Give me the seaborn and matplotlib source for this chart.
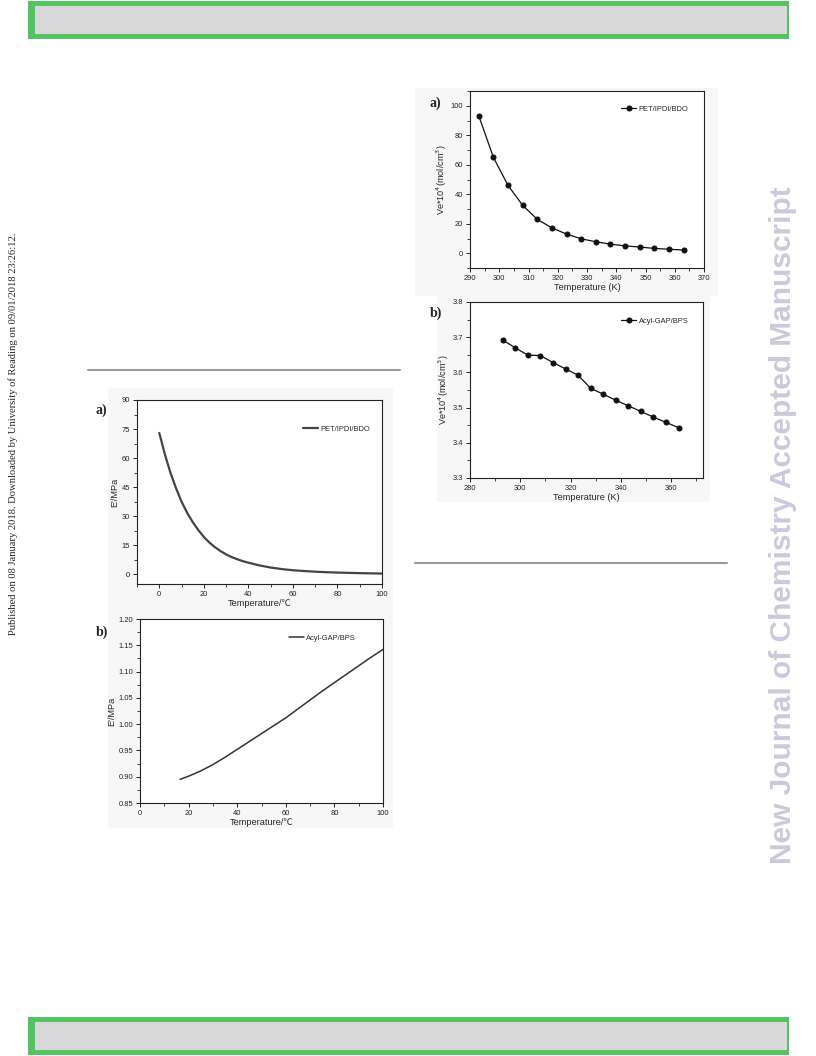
import matplotlib
matplotlib.use("Agg")
import matplotlib.pyplot as plt
import seaborn as sns
import pandas as pd
from matplotlib.patches import Rectangle
from matplotlib.lines import Line2D
from matplotlib.ticker import MultipleLocator

# ---------------- data ----------------
ve_a_temp = [293, 298, 303, 308, 313, 318, 323, 328, 333, 338, 343, 348, 353, 358, 363]
ve_a_vals = [93.2, 65.0, 46.0, 32.5, 23.0, 17.2, 13.0, 9.8, 7.8, 6.2, 5.0, 4.2, 3.3, 2.7, 2.2]
ve_a_name = "PET/IPDI/BDO"

ve_b_temp = [293, 298, 303, 308, 313, 318, 323, 328, 333, 338, 343, 348, 353, 358, 363]
ve_b_vals = [3.692, 3.670, 3.649, 3.648, 3.628, 3.610, 3.592, 3.555, 3.538, 3.521,
             3.505, 3.489, 3.473, 3.458, 3.443]
ve_b_name = "Acyl-GAP/BPS"

e_a_temp = [0, 2.5, 5, 7.5, 10, 12.5, 15, 17.5, 20, 22.5, 25, 27.5, 30, 32.5, 35, 37.5, 40,
            45, 50, 55, 60, 65, 70, 75, 80, 85, 90, 95, 100]
e_a_vals = [73.0, 62.0, 52.5, 44.5, 37.5, 31.8, 27.0, 22.9, 19.3, 16.4, 14.0, 12.0, 10.3,
            8.9, 7.8, 6.8, 6.0, 4.6, 3.5, 2.7, 2.1, 1.7, 1.35, 1.1, 0.9, 0.75, 0.6, 0.5, 0.4]
e_a_name = "PET/IPDI/BDO"

e_b_temp = [16.5, 20, 25, 30, 35, 40, 45, 50, 55, 60, 65, 70, 75, 80, 85, 90, 95, 100]
e_b_vals = [0.895, 0.901, 0.911, 0.923, 0.937, 0.952, 0.967, 0.982, 0.997, 1.012, 1.029,
            1.046, 1.063, 1.079, 1.095, 1.111, 1.127, 1.142]
e_b_name = "Acyl-GAP/BPS"

# ---------------- figure ----------------
sns.set_style("ticks")
plt.rcParams['font.family'] = ['Liberation Sans', 'DejaVu Sans']
W, H = 816, 1056
fig = plt.figure(figsize=(W / 100, H / 100), dpi=100)
fig.patch.set_facecolor("white")


def px_rect(x0, y0, x1, y1):
    return [x0 / W, 1 - y1 / H, (x1 - x0) / W, (y1 - y0) / H]


def add_patch(x0, y0, x1, y1, color, z=-10):
    fig.patches.append(Rectangle((x0 / W, 1 - y1 / H), (x1 - x0) / W, (y1 - y0) / H,
                                 transform=fig.transFigure, facecolor=color,
                                 edgecolor='none', zorder=z))


# header / footer bands
green = "#52c562"
grey = "#d8d8d8"
for (y0, y1) in [(1, 39), (1017, 1055)]:
    add_patch(28, y0, 789, y1, green, z=-9)
    add_patch(35, y0 + 5, 787, y1 - 5, grey, z=-8)

# image backgrounds
add_patch(108, 388, 393, 612, "#f7f7f7")
add_patch(108, 612, 393, 828, "#f7f7f7")
add_patch(415, 88, 718, 296, "#f7f7f7")
add_patch(437, 296, 710, 502, "#f7f7f7")

# separator lines
fig.lines.append(Line2D([88 / W, 400 / W], [1 - 370 / H] * 2, transform=fig.transFigure,
                        color="#9a9a9a", lw=1.5))
fig.lines.append(Line2D([415 / W, 727 / W], [1 - 563 / H] * 2, transform=fig.transFigure,
                        color="#9a9a9a", lw=1.5))

# side texts
fig.text(13 / W, 1 - 434 / H,
         "Published on 08 January 2018. Downloaded by University of Reading on 09/01/2018 23:26:12.",
         rotation=90, ha='center', va='center', fontsize=7.6, family=['Liberation Serif'])
fig.text(783 / W, 1 - 525 / H, "New Journal of Chemistry Accepted Manuscript",
         rotation=90, ha='center', va='center', fontsize=21.5, fontweight='bold',
         color="#cacadc", family=['Liberation Sans'])

tick_fs = 5.4
leg_fs = 5.4
lab_fs = 6.6
deg_family = ['Liberation Sans', 'Noto Sans CJK SC', 'DejaVu Sans']


def style_axes(ax):
    ax.set_zorder(5)
    ax.set_facecolor("white")
    for s in ax.spines.values():
        s.set_linewidth(0.8)
        s.set_color("#222222")
    ax.tick_params(axis='both', which='major', direction='out', length=3, width=0.7,
                   labelsize=tick_fs, colors="#222222", pad=2)
    ax.tick_params(axis='both', which='minor', direction='out', length=2, width=0.6,
                   colors="#222222")
    ax.tick_params(top=False, right=False, which='both')


def place_legend(ax, xr, yc):
    ax.legend(loc='center right', frameon=False, fontsize=leg_fs, handlelength=2.0,
              bbox_to_anchor=(xr, yc), borderaxespad=0, handletextpad=0.3)


# ---- top right (a) ----
ax1 = fig.add_axes(px_rect(470, 91, 704, 268))
df1 = pd.DataFrame({"T": ve_a_temp, "V": ve_a_vals})
sns.lineplot(data=df1, x="T", y="V", ax=ax1, color="#111111", lw=0.9, marker='o',
             markersize=3.6, markeredgecolor="#111111", label=ve_a_name)
ax1.set_xlim(290, 370)
ax1.set_ylim(-10, 110)
ax1.xaxis.set_major_locator(MultipleLocator(10))
ax1.xaxis.set_minor_locator(MultipleLocator(5))
ax1.set_yticks([0, 20, 40, 60, 80, 100])
ax1.yaxis.set_minor_locator(MultipleLocator(10))
ax1.set_xlabel("Temperature (K)", fontsize=lab_fs, labelpad=1)
ax1.set_ylabel("Ve*10$^4$(mol/cm$^3$)", fontsize=lab_fs, labelpad=1)
style_axes(ax1)
place_legend(ax1, 0.945, 0.898)
fig.text(430 / W, 1 - 103 / H, "a)", fontsize=10, fontweight='bold',
         family=['Liberation Serif'], va='center')

# ---- bottom right (b) ----
ax2 = fig.add_axes(px_rect(470, 302, 703, 478))
df2 = pd.DataFrame({"T": ve_b_temp, "V": ve_b_vals})
sns.lineplot(data=df2, x="T", y="V", ax=ax2, color="#111111", lw=0.9, marker='o',
             markersize=3.6, markeredgecolor="#111111", label=ve_b_name)
ax2.set_xlim(280, 372.7)
ax2.set_ylim(3.3, 3.8)
ax2.set_xticks([280, 300, 320, 340, 360])
ax2.xaxis.set_minor_locator(MultipleLocator(10))
ax2.set_yticks([3.3, 3.4, 3.5, 3.6, 3.7, 3.8])
ax2.yaxis.set_minor_locator(MultipleLocator(0.05))
ax2.set_xlabel("Temperature (K)", fontsize=lab_fs, labelpad=1)
ax2.set_ylabel("Ve*10$^4$(mol/cm$^3$)", fontsize=lab_fs, labelpad=1)
style_axes(ax2)
place_legend(ax2, 0.95, 0.892)
fig.text(430 / W, 1 - 313 / H, "b)", fontsize=10, fontweight='bold',
         family=['Liberation Serif'], va='center')

# ---- left top (a) ----
ax3 = fig.add_axes(px_rect(137, 400, 382, 584))
df3 = pd.DataFrame({"T": e_a_temp, "E": e_a_vals})
sns.lineplot(data=df3, x="T", y="E", ax=ax3, color="#444444", lw=1.6, label=e_a_name)
ax3.set_xlim(-10, 100)
ax3.set_ylim(-5, 90)
ax3.set_xticks([0, 20, 40, 60, 80, 100])
ax3.xaxis.set_minor_locator(MultipleLocator(10))
ax3.set_yticks([0, 15, 30, 45, 60, 75, 90])
ax3.yaxis.set_minor_locator(MultipleLocator(7.5))
ax3.set_xlabel("Temperature/\u2103", fontsize=lab_fs, labelpad=1, family=deg_family)
ax3.set_ylabel("E'/MPa", fontsize=lab_fs, labelpad=1.5)
style_axes(ax3)
place_legend(ax3, 0.965, 0.842)
fig.text(96 / W, 1 - 410 / H, "a)", fontsize=10, fontweight='bold',
         family=['Liberation Serif'], va='center')

# ---- left bottom (b) ----
ax4 = fig.add_axes(px_rect(140, 619, 383, 803))
df4 = pd.DataFrame({"T": e_b_temp, "E": e_b_vals})
sns.lineplot(data=df4, x="T", y="E", ax=ax4, color="#333333", lw=1.1, label=e_b_name)
ax4.set_xlim(0, 100)
ax4.set_ylim(0.85, 1.20)
ax4.set_xticks([0, 20, 40, 60, 80, 100])
ax4.xaxis.set_minor_locator(MultipleLocator(10))
ax4.set_yticks([0.85, 0.90, 0.95, 1.00, 1.05, 1.10, 1.15, 1.20])
ax4.yaxis.set_minor_locator(MultipleLocator(0.025))
ax4.set_xlabel("Temperature/\u2103", fontsize=lab_fs, labelpad=1, family=deg_family)
ax4.set_ylabel("E'/MPa", fontsize=lab_fs, labelpad=1.5)
style_axes(ax4)
place_legend(ax4, 0.9, 0.897)
fig.text(96 / W, 1 - 632 / H, "b)", fontsize=10, fontweight='bold',
         family=['Liberation Serif'], va='center')

fig.savefig("out.png", dpi=100, facecolor="white")
